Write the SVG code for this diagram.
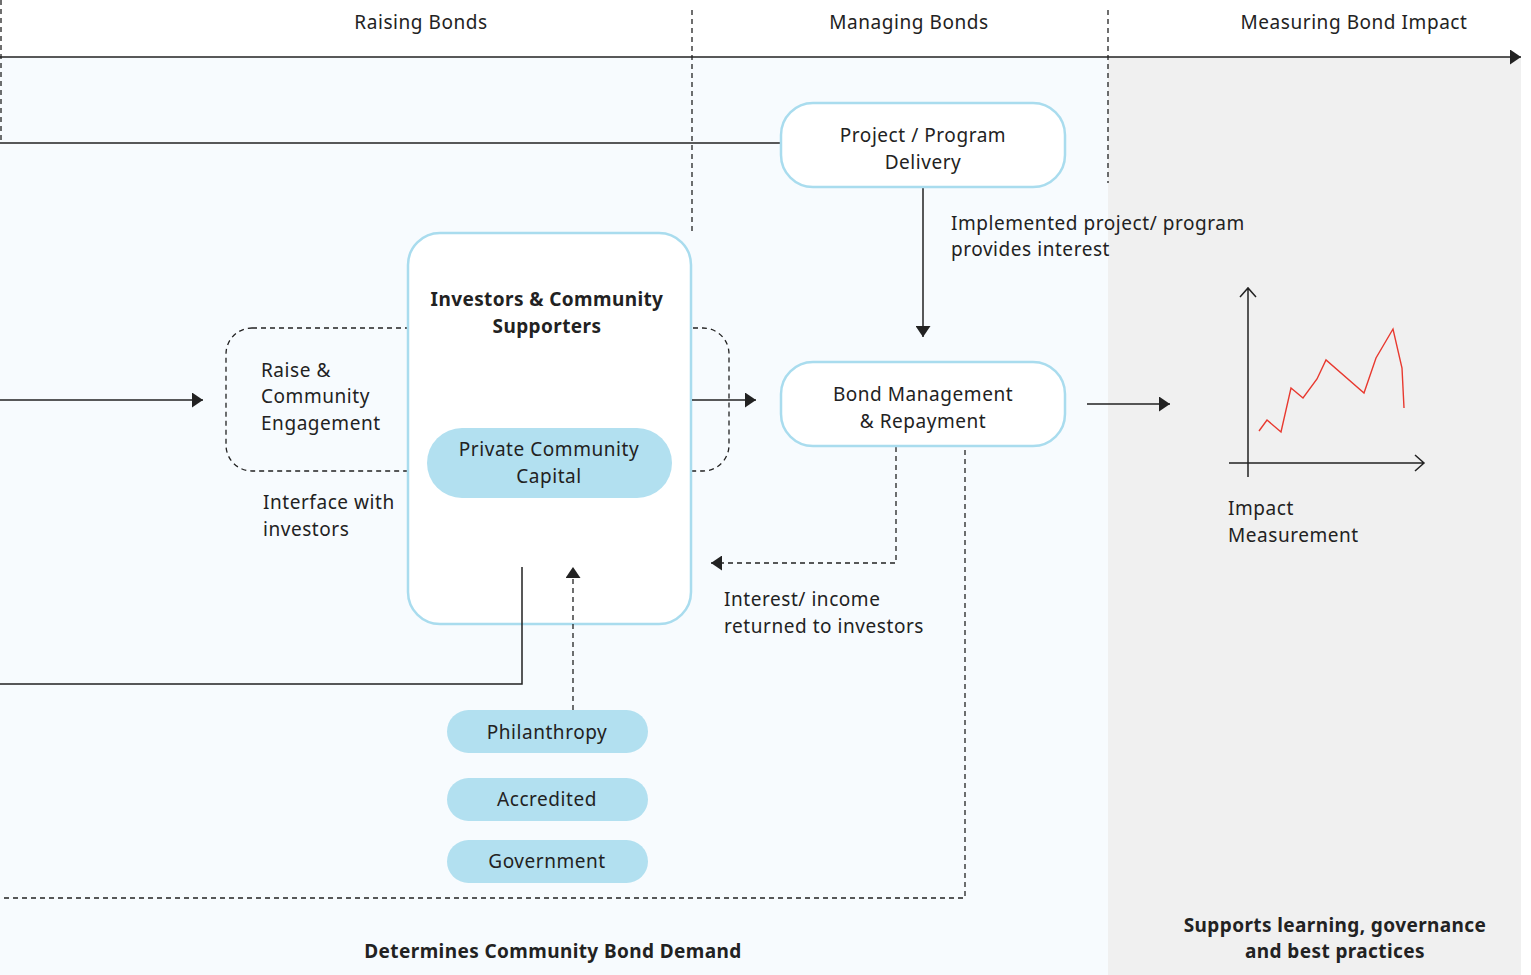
<svg xmlns="http://www.w3.org/2000/svg" width="1531" height="975" viewBox="0 0 1531 975">
<style>
.t{font-family:"Noto Sans","Open Sans",sans-serif;font-size:19px;fill:#222;letter-spacing:0.55px}
.b{font-family:"Noto Sans","Open Sans",sans-serif;font-size:19px;fill:#222;font-weight:bold;letter-spacing:0.4px}
.box{fill:#fff;stroke:#a9dcee;stroke-width:2.5}
.pill{fill:#b2e0f0}
.ln{stroke:#222;stroke-width:1.5;fill:none}
.dl{stroke:#222;stroke-width:1.3;fill:none;stroke-dasharray:5 4}
</style>
<defs>
<marker id="ahb" viewBox="0 0 11 15" refX="11" refY="7.5" markerWidth="11" markerHeight="15" markerUnits="userSpaceOnUse" orient="auto">
<path d="M0,0 L11,7.5 L0,15 Z" fill="#222"/>
</marker>
</defs>
<rect width="1531" height="975" fill="#fff"/>
<rect x="0" y="57" width="1108" height="918" fill="#f7fbfe"/>
<rect x="1108" y="57" width="413" height="918" fill="#f0f0f0"/>

<g id="headers">
<text class="t" x="421" y="29" text-anchor="middle">Raising Bonds</text>
<text class="t" x="909" y="29" text-anchor="middle">Managing Bonds</text>
<text class="t" x="1354" y="29" text-anchor="middle">Measuring Bond Impact</text>
</g>

<g id="raise">
<rect class="dl" x="226" y="328" width="503" height="143" rx="26"/>
<text class="t" x="261" y="377">Raise &amp;</text>
<text class="t" x="261" y="403">Community</text>
<text class="t" x="261" y="430">Engagement</text>
</g>

<g id="investors">
<rect class="box" x="408" y="233" width="283" height="391" rx="32"/>
<text class="b" x="547" y="306" text-anchor="middle">Investors &amp; Community</text>
<text class="b" x="547" y="333" text-anchor="middle">Supporters</text>
</g>
<g id="private-capital">
<rect class="pill" x="427" y="428" width="245" height="70" rx="35"/>
<text class="t" x="549" y="456" text-anchor="middle">Private Community</text>
<text class="t" x="549" y="483" text-anchor="middle">Capital</text>
</g>

<g id="connectors">
<line class="ln" x1="0" y1="57" x2="1521" y2="57" marker-end="url(#ahb)" stroke-width="1.8"/>
<line class="dl" x1="1" y1="0" x2="1" y2="143"/>
<line class="dl" x1="692" y1="10" x2="692" y2="232"/>
<line class="dl" x1="1108" y1="10" x2="1108" y2="183"/>
<line class="ln" x1="0" y1="143" x2="781" y2="143"/>
<line class="ln" x1="923" y1="188" x2="923" y2="337" marker-end="url(#ahb)"/>
<line class="ln" x1="0" y1="400" x2="203" y2="400" marker-end="url(#ahb)"/>
<line class="ln" x1="692" y1="400" x2="756" y2="400" marker-end="url(#ahb)"/>
<line class="ln" x1="1087" y1="404" x2="1170" y2="404" marker-end="url(#ahb)"/>
<polyline class="dl" points="896,447 896,563 711,563" marker-end="url(#ahb)"/>
<polyline class="dl" points="965,450 965,898 0,898"/>
<polyline class="ln" points="522,567 522,684 0,684"/>
<line class="dl" x1="573" y1="710" x2="573" y2="567" marker-end="url(#ahb)"/>
</g>

<g id="interface-label">
<text class="t" x="263" y="509">Interface with</text>
<text class="t" x="263" y="536">investors</text>
</g>
<g id="project">
<rect class="box" x="781" y="103" width="284" height="84" rx="32"/>
<text class="t" x="923" y="142" text-anchor="middle">Project / Program</text>
<text class="t" x="923" y="169" text-anchor="middle">Delivery</text>
</g>
<g id="implemented-label">
<text class="t" x="951" y="230">Implemented project/ program</text>
<text class="t" x="951" y="256">provides interest</text>
</g>
<g id="bond-mgmt">
<rect class="box" x="781" y="362" width="284" height="84" rx="32"/>
<text class="t" x="923" y="401" text-anchor="middle">Bond Management</text>
<text class="t" x="923" y="428" text-anchor="middle">&amp; Repayment</text>
</g>
<g id="interest-label">
<text class="t" x="724" y="606">Interest/ income</text>
<text class="t" x="724" y="633">returned to investors</text>
</g>
<g id="philanthropy">
<rect class="pill" x="447" y="710" width="201" height="43" rx="21.5"/>
<text class="t" x="547" y="739" text-anchor="middle">Philanthropy</text>
</g>
<g id="accredited">
<rect class="pill" x="447" y="778" width="201" height="43" rx="21.5"/>
<text class="t" x="547" y="806" text-anchor="middle">Accredited</text>
</g>
<g id="government">
<rect class="pill" x="447" y="840" width="201" height="43" rx="21.5"/>
<text class="t" x="547" y="868" text-anchor="middle">Government</text>
</g>
<g id="impact-chart">
<path d="M1248,477 V288 M1240,297 L1248,288 L1256,297 M1229,463 H1424 M1415,455 L1424,463 L1415,471" stroke="#222" stroke-width="1.5" fill="none"/>
<polyline points="1259,431 1267,420 1281,432 1291,388 1303,398 1317,379 1326,360 1364,393 1376,358 1393,329 1402,368 1404,408" fill="none" stroke="#e8392f" stroke-width="1.4"/>
<text class="t" x="1228" y="515">Impact</text>
<text class="t" x="1228" y="542">Measurement</text>
</g>
<g id="footer">
<text class="b" x="553" y="958" text-anchor="middle">Determines Community Bond Demand</text>
<text class="b" x="1335" y="932" text-anchor="middle">Supports learning, governance</text>
<text class="b" x="1335" y="958" text-anchor="middle">and best practices</text>
</g>
</svg>
